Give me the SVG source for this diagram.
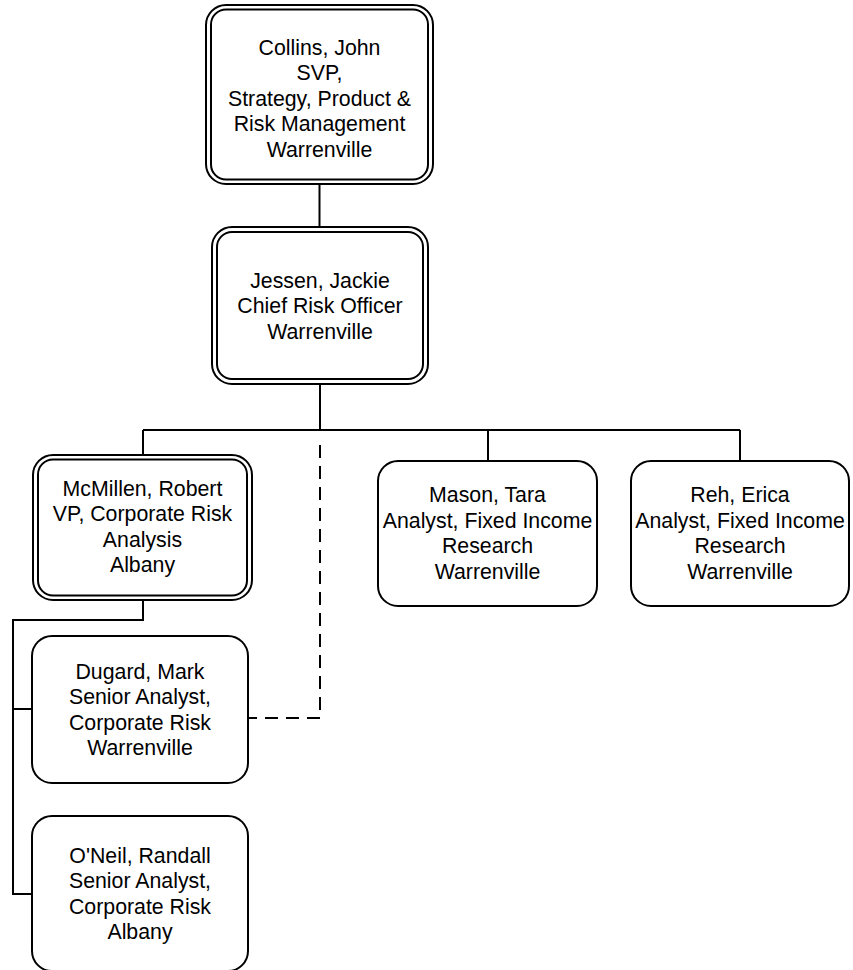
<svg xmlns="http://www.w3.org/2000/svg" width="853" height="970" viewBox="0 0 853 970">
<style>
.b{fill:#fff;stroke:#000;stroke-width:2}
.i{fill:none;stroke:#000;stroke-width:2}
.c{fill:none;stroke:#000;stroke-width:2}
.d{fill:none;stroke:#000;stroke-width:2;stroke-dasharray:13 8}
text{font-family:"Liberation Sans",Arial,sans-serif;font-size:21.3px;fill:#000;text-anchor:middle}
</style>
<rect width="853" height="970" fill="#fff"/>
<g id="connectors">
<path class="c" d="M319.5 184V227"/>
<path class="c" d="M320 384V430"/>
<path class="c" d="M143 430H740"/>
<path class="c" d="M143 430V455"/>
<path class="c" d="M488 430V461"/>
<path class="c" d="M740 430V461"/>
<path class="c" d="M143 600V620H13V894H32"/>
<path class="c" d="M13 709H32"/>
<path class="d" d="M244 718H320V437"/>
</g>
<g id="collins">
<rect class="b" x="206" y="5" width="227" height="179" rx="20"/>
<rect class="i" x="211" y="9.5" width="217" height="170" rx="15"/>
<text x="319.5" y="54.5">Collins, John</text>
<text x="319.5" y="80">SVP,</text>
<text x="319.5" y="105.5">Strategy, Product &amp;</text>
<text x="319.5" y="131">Risk Management</text>
<text x="319.5" y="156.5">Warrenville</text>
</g>
<g id="jessen">
<rect class="b" x="212" y="227" width="216" height="157" rx="20"/>
<rect class="i" x="217" y="232" width="206" height="147" rx="15"/>
<text x="320" y="287.5">Jessen, Jackie</text>
<text x="320" y="313">Chief Risk Officer</text>
<text x="320" y="338.5">Warrenville</text>
</g>
<g id="mcmillen">
<rect class="b" x="33" y="455" width="219" height="145" rx="20"/>
<rect class="i" x="38" y="459.5" width="209" height="136" rx="15"/>
<text x="142.5" y="495.5">McMillen, Robert</text>
<text x="142.5" y="521">VP, Corporate Risk</text>
<text x="142.5" y="546.5">Analysis</text>
<text x="142.5" y="572">Albany</text>
</g>
<g id="mason">
<rect class="b" x="378" y="461" width="219" height="145" rx="20"/>
<text x="487.5" y="502">Mason, Tara</text>
<text x="487.5" y="527.5">Analyst, Fixed Income</text>
<text x="487.5" y="553">Research</text>
<text x="487.5" y="578.5">Warrenville</text>
</g>
<g id="reh">
<rect class="b" x="631" y="461" width="218" height="145" rx="20"/>
<text x="740" y="502">Reh, Erica</text>
<text x="740" y="527.5">Analyst, Fixed Income</text>
<text x="740" y="553">Research</text>
<text x="740" y="578.5">Warrenville</text>
</g>
<g id="dugard">
<rect class="b" x="32" y="636" width="216" height="147" rx="20"/>
<text x="140" y="678.5">Dugard, Mark</text>
<text x="140" y="704">Senior Analyst,</text>
<text x="140" y="729.5">Corporate Risk</text>
<text x="140" y="755">Warrenville</text>
</g>
<g id="oneil">
<rect class="b" x="32" y="816" width="216" height="155" rx="20"/>
<text x="140" y="862.5">O'Neil, Randall</text>
<text x="140" y="888">Senior Analyst,</text>
<text x="140" y="913.5">Corporate Risk</text>
<text x="140" y="939">Albany</text>
</g>
</svg>
